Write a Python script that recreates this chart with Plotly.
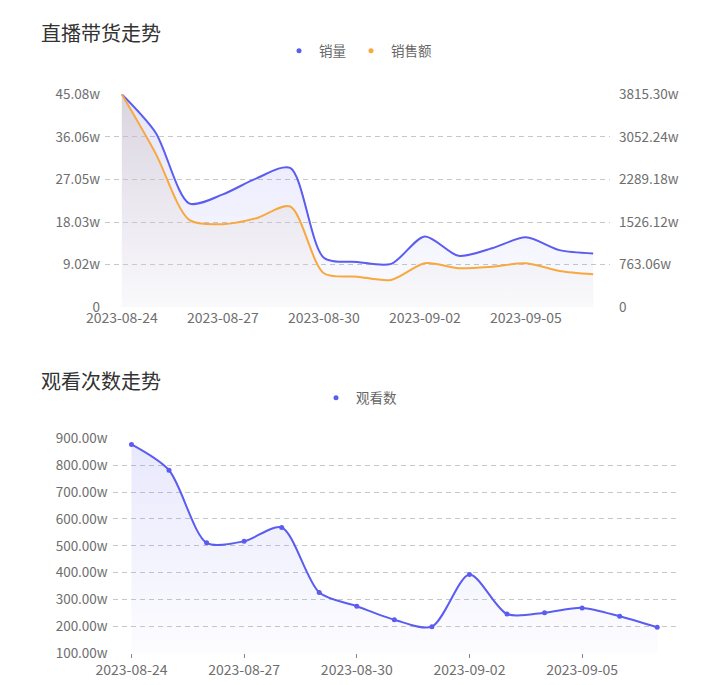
import plotly.graph_objects as go

# 日期
dates = ['2023-08-24', '2023-08-25', '2023-08-26', '2023-08-27', '2023-08-28',
         '2023-08-29', '2023-08-30', '2023-08-31', '2023-09-01', '2023-09-02',
         '2023-09-03', '2023-09-04', '2023-09-05', '2023-09-06', '2023-09-07']

# 销量 (w)
sales_volume = [45.08, 37.0, 22.0, 23.9, 27.3, 29.5, 10.5, 9.6, 9.2, 15.0,
                10.9, 12.5, 14.8, 12.1, 11.4]
# 销售额 (w)
sales_amount = [3815.30, 2762, 1566, 1489, 1596, 1805, 610, 549, 490, 789,
                700, 728, 789, 651, 592]
# 观看数 (w)
views = [877, 781, 511, 517, 568, 326, 275, 225, 199, 393, 246, 251, 269, 238, 197]

tick_dates = dates[::3]

BLUE = '#5b5cf0'
ORANGE = '#f7a83e'
W, H = 721, 685
OFF = 8  # 页面 body 的默认边距


def px_x(v):
    return (v - OFF) / W


def px_y(v):
    return 1 - (v - OFF) / H


vol_max = max(sales_volume)
amt_max = max(sales_amount)
vol_ticks = [vol_max * i / 5 for i in range(6)]
amt_ticks = [amt_max * i / 5 for i in range(6)]
view_ticks = list(range(100, 1000, 100))

fig = go.Figure()

# 销量
fig.add_trace(go.Scatter(
    x=dates, y=sales_volume, name='销量', mode='lines',
    line=dict(color=BLUE, width=2, shape='spline', smoothing=0.8),
    fill='tozeroy',
    fillgradient=dict(type='vertical', colorscale=[[0, 'rgba(91,92,240,0.02)'], [1, 'rgba(91,92,240,0.16)']]),
    xaxis='x', yaxis='y', showlegend=False))

# 销售额
fig.add_trace(go.Scatter(
    x=dates, y=sales_amount, name='销售额', mode='lines',
    line=dict(color=ORANGE, width=2, shape='spline', smoothing=0.8),
    fill='tozeroy',
    fillgradient=dict(type='vertical', colorscale=[[0, 'rgba(235,230,228,0.15)'], [1, 'rgba(205,190,182,0.45)']]),
    xaxis='x', yaxis='y2', showlegend=False))

# 观看数
fig.add_trace(go.Scatter(
    x=dates, y=views, name='观看数', mode='lines+markers',
    line=dict(color=BLUE, width=2, shape='spline', smoothing=0.8),
    marker=dict(size=5, color=BLUE),
    fill='tozeroy',
    fillgradient=dict(type='vertical', colorscale=[[0, 'rgba(91,92,240,0.0)'], [1, 'rgba(91,92,240,0.14)']]),
    xaxis='x2', yaxis='y3', showlegend=False))

# 图例用的小圆点
for name, color, lg, xa, ya in [('销量', BLUE, 'legend', 'x', 'y'),
                                 ('销售额', ORANGE, 'legend', 'x', 'y'),
                                 ('观看数', BLUE, 'legend2', 'x2', 'y3')]:
    fig.add_trace(go.Scatter(x=[None], y=[None], mode='markers', name=name,
                             marker=dict(size=5, color=color),
                             legend=lg, xaxis=xa, yaxis=ya))

grid = dict(showgrid=True, gridcolor='#c8c8c8', griddash='5px,4px', gridwidth=1,
            zeroline=False, showline=False)
tickfont = dict(size=13.5, color='#6e6e6e')
xtickfont = dict(size=14, color='#6e6e6e')

fig.update_layout(
    width=W, height=H,
    margin=dict(l=0, r=0, t=0, b=0, autoexpand=False),
    paper_bgcolor='white', plot_bgcolor='white',
    font=dict(family='Noto Sans CJK SC, sans-serif', color='#666'),
    xaxis=dict(domain=[px_x(105), px_x(610)], anchor='y', type='category',
               range=[-0.5, 14.5], tickvals=tick_dates, ticktext=tick_dates,
               showgrid=False, zeroline=False, showline=False, tickfont=xtickfont,
               ticklabelstandoff=1),
    yaxis=dict(domain=[px_y(307.3), px_y(94.3)], anchor='x', range=[0, vol_max],
               tickvals=vol_ticks,
               ticktext=['0' if v == 0 else f'{v:.2f}w' for v in vol_ticks],
               tickfont=tickfont, ticklabelstandoff=4, **grid),
    yaxis2=dict(overlaying='y', anchor='x', side='right', range=[0, amt_max],
                tickvals=amt_ticks,
                ticktext=['0' if v == 0 else f'{v:.2f}w' for v in amt_ticks],
                showgrid=False, zeroline=False, showline=False,
                tickfont=tickfont, ticklabelstandoff=8),
    xaxis2=dict(domain=[px_x(112.7), px_x(676)], anchor='y3', type='category',
                range=[-0.5, 14.5], tickvals=tick_dates, ticktext=tick_dates,
                showgrid=False, zeroline=False, showline=False,
                ticks='outside', ticklen=4, tickcolor='#888', tickfont=xtickfont),
    yaxis3=dict(domain=[px_y(653.3), px_y(438.3)], anchor='x2', range=[100, 900],
                tickvals=view_ticks, ticktext=[f'{v:.2f}w' for v in view_ticks],
                tickfont=tickfont, ticklabelstandoff=4, **grid),
    legend=dict(orientation='h', x=px_x(358), xanchor='center', y=px_y(51), yanchor='middle',
                font=dict(size=13.5, color='#666'), itemwidth=30, bgcolor='rgba(0,0,0,0)'),
    legend2=dict(orientation='h', x=px_x(359), xanchor='center', y=px_y(398), yanchor='middle',
                 font=dict(size=13.5, color='#666'), itemwidth=30, bgcolor='rgba(0,0,0,0)'),
    annotations=[
        dict(text='直播带货走势', x=px_x(39), y=px_y(32), xref='paper', yref='paper',
             xanchor='left', yanchor='middle', showarrow=False,
             font=dict(size=20, color='#333')),
        dict(text='观看次数走势', x=px_x(39), y=px_y(380), xref='paper', yref='paper',
             xanchor='left', yanchor='middle', showarrow=False,
             font=dict(size=20, color='#333')),
    ],
)

fig.write_html('out.html')
